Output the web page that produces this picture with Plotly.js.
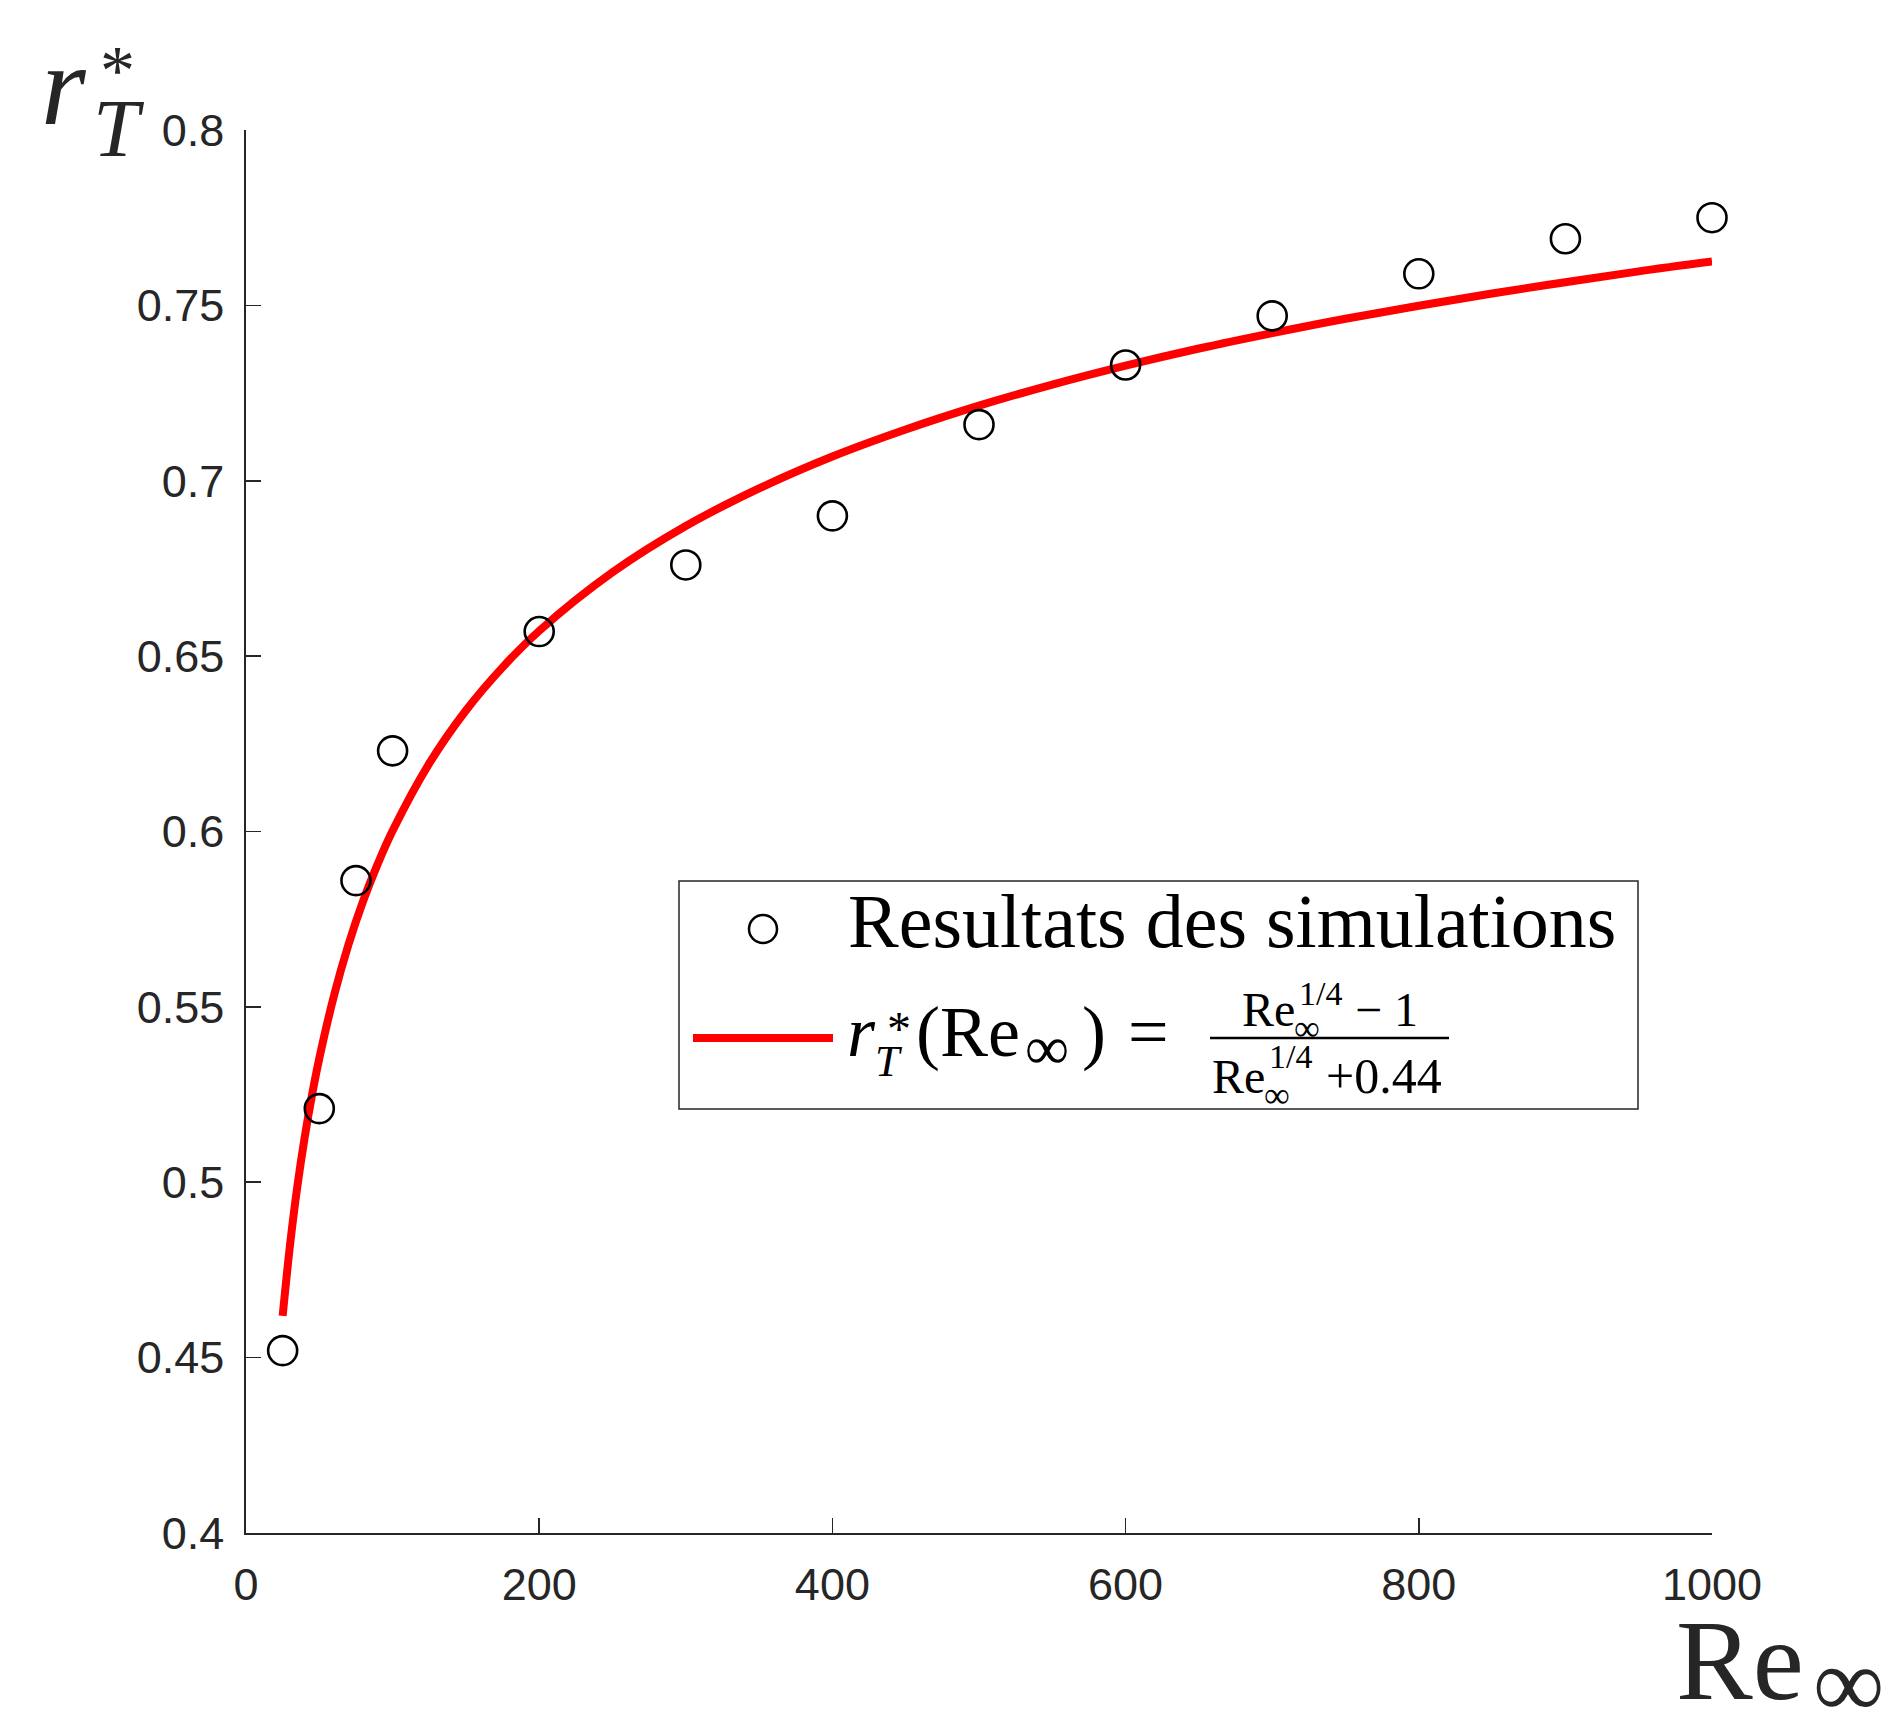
<!DOCTYPE html>
<html>
<head>
<meta charset="utf-8">
<script src="https://cdn.plot.ly/plotly-3.0.1.min.js"></script>
<style>html,body{margin:0;padding:0;background:#fff;}#chart{width:1890px;height:1715px;}</style>
</head>
<body>
<div id="chart"></div>
<script>
// ---- data ----
const simRe = [25, 50, 75, 100, 200, 300, 400, 500, 600, 700, 800, 900, 1000];
const simR  = [0.452, 0.521, 0.586, 0.623, 0.657, 0.676, 0.690, 0.716, 0.733, 0.747, 0.759, 0.769, 0.775];

const fitRe = [25, 30, 35, 40, 45, 50, 60, 70, 80, 90, 100, 125, 150, 175, 200, 250, 300, 350, 400, 450, 500, 550, 600, 650, 700, 750, 800, 850, 900, 950, 1000];
const fitR  = [0.4619, 0.4820, 0.4987, 0.5127, 0.5248, 0.5353, 0.5532, 0.5679, 0.5803, 0.5909, 0.6002, 0.6194, 0.6345, 0.6468, 0.6572, 0.6739, 0.6871, 0.6978, 0.7069, 0.7146, 0.7214, 0.7274, 0.7328, 0.7377, 0.7421, 0.7462, 0.7499, 0.7534, 0.7566, 0.7597, 0.7625];

const xTicks = [0, 200, 400, 600, 800, 1000];
const xTickLabels = ['0', '200', '400', '600', '800', '1000'];
const yTicks = [0.4, 0.45, 0.5, 0.55, 0.6, 0.65, 0.7, 0.75, 0.8];
const yTickLabels = ['0.4', '0.45', '0.5', '0.55', '0.6', '0.65', '0.7', '0.75', '0.8'];

const legendSim = 'Resultats des simulations';

// ---- layout helpers (pixel -> paper) ----
const L = 246, R = 1712, TOP = 130, BOT = 1533;
const W = 1890, H = 1715;
const px = v => (v - L) / (R - L);
const py = v => (BOT - v) / (BOT - TOP);
const SERIF = 'Liberation Serif';

function txt(text, left, baseline, size, italic, color) {
  return {
    xref: 'paper', yref: 'paper',
    x: px(left), y: py(baseline - 0.891 * size),
    xanchor: 'left', yanchor: 'top',
    text: italic ? '<i>' + text + '</i>' : text,
    showarrow: false, borderpad: 0,
    font: {family: SERIF, size: size, color: color || '#000000'}
  };
}

const annotations = [
  // y-axis label r*_T
  txt('r', 40, 123, 115, true, '#262626'),
  txt('*', 99, 93, 70, false, '#262626'),
  txt('T', 92, 155, 83, true, '#262626'),
  // x-axis label Re_inf
  txt('Re', 1675, 1698, 115, false, '#262626'),
  txt('\u221E', 1812, 1716, 100, false, '#262626'),
  // legend row 1
  txt(legendSim, 847, 946, 76, false),
  // legend row 2
  txt('r', 846, 1055, 72, true),
  txt('*', 886, 1044, 48, false),
  txt('T', 874, 1075, 44, true),
  txt('(Re', 915, 1055, 72, false),
  txt('\u221E', 1024, 1068, 62, false),
  txt(')', 1081, 1055, 72, false),
  txt('=', 1127, 1055, 72, false),
  // numerator
  txt('Re', 1241, 1025, 48, false),
  txt('\u221E', 1293, 1039, 36, false),
  txt('1/4', 1298, 1004, 34, false),
  txt('\u2212 1', 1354, 1025, 48, false),
  // denominator
  txt('Re', 1211, 1092, 48, false),
  txt('\u221E', 1263, 1106, 36, false),
  txt('1/4', 1268, 1067, 34, false),
  txt('+0.44', 1325, 1092, 50, false)
];

const shapes = [
  // legend box
  {type: 'rect', xref: 'paper', yref: 'paper', x0: px(679), x1: px(1638), y0: py(881), y1: py(1109),
   line: {color: '#262626', width: 1.5}, fillcolor: '#ffffff', layer: 'above'},
  // legend symbol: circle
  {type: 'circle', xref: 'paper', yref: 'paper', x0: px(749), x1: px(777), y0: py(915), y1: py(943),
   line: {color: '#000000', width: 2.5}, layer: 'above'},
  // legend symbol: red line
  {type: 'line', xref: 'paper', yref: 'paper', x0: px(693), x1: px(833), y0: py(1038), y1: py(1038),
   line: {color: '#ff0000', width: 8}, layer: 'above'},
  // fraction bar
  {type: 'line', xref: 'paper', yref: 'paper', x0: px(1210), x1: px(1449), y0: py(1038), y1: py(1038),
   line: {color: '#000000', width: 2.5}, layer: 'above'}
];

const traces = [
  {x: fitRe, y: fitR, type: 'scatter', mode: 'lines', line: {color: '#ff0000', width: 8, shape: 'spline', smoothing: 1},
   showlegend: false, hoverinfo: 'skip'},
  {x: simRe, y: simR, type: 'scatter', mode: 'markers', cliponaxis: false,
   marker: {symbol: 'circle-open', size: 29, color: '#000000', line: {width: 2.6, color: '#000000'}},
   showlegend: false}
];

const tickFont = {family: 'Liberation Sans, Arial, sans-serif', size: 45, color: '#262626'};

const layout = {
  width: W, height: H,
  paper_bgcolor: '#ffffff', plot_bgcolor: '#ffffff',
  margin: {l: L, r: W - R, t: TOP, b: H - BOT, pad: 0},
  showlegend: false,
  xaxis: {range: [0, 1000], tickvals: xTicks, ticktext: xTickLabels, ticks: 'inside', ticklen: 15,
          tickwidth: 1.6, tickcolor: '#262626', showline: true, linecolor: '#262626', linewidth: 1.6,
          showgrid: false, zeroline: false, tickfont: tickFont, ticklabelstandoff: 11, fixedrange: true},
  yaxis: {range: [0.4, 0.8], tickvals: yTicks, ticktext: yTickLabels, ticks: 'inside', ticklen: 15,
          tickwidth: 1.6, tickcolor: '#262626', showline: true, linecolor: '#262626', linewidth: 1.6,
          showgrid: false, zeroline: false, tickfont: tickFont, ticklabelstandoff: 11, fixedrange: true},
  annotations: annotations,
  shapes: shapes
};

Plotly.newPlot('chart', traces, layout, {displayModeBar: false, staticPlot: true});
</script>
</body>
</html>
